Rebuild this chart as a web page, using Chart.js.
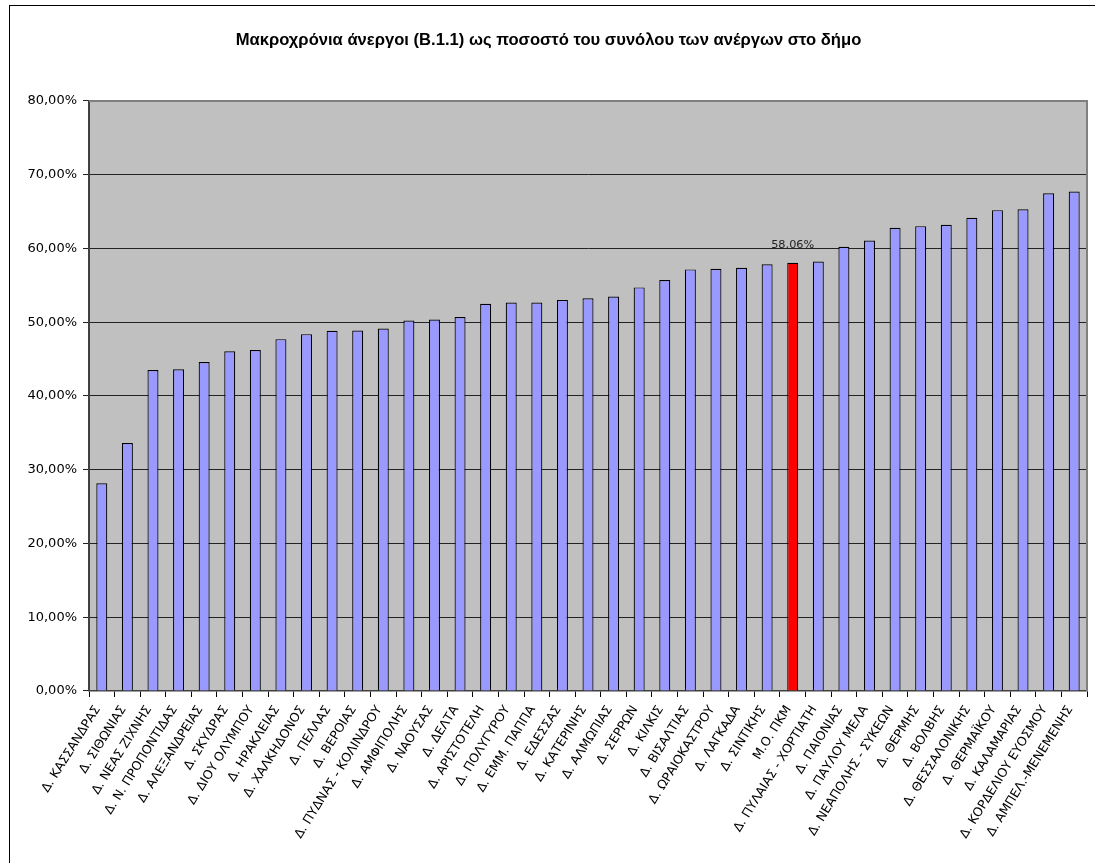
<!DOCTYPE html>
<html lang="el">
<head>
  <meta charset="UTF-8">
  <title>Μακροχρόνια άνεργοι</title>
  <style>
    html, body { margin: 0; padding: 0; background: #fff; }
    #wrap { width: 1095px; height: 863px; }
  </style>
  <script src="https://cdn.jsdelivr.net/npm/chart.js"></script>
</head>
<body>
  <div id="wrap"><canvas id="longTermChart" width="1095" height="863"></canvas></div>
  <script>
    // --- δεδομένα ---
    const dimoi = [
      'Δ. ΚΑΣΣΑΝΔΡΑΣ', 'Δ. ΣΙΘΩΝΙΑΣ', 'Δ. ΝΕΑΣ ΖΙΧΝΗΣ', 'Δ. Ν. ΠΡΟΠΟΝΤΙΔΑΣ', 'Δ. ΑΛΕΞΑΝΔΡΕΙΑΣ',
      'Δ. ΣΚΥΔΡΑΣ', 'Δ. ΔΙΟΥ ΟΛΥΜΠΟΥ', 'Δ. ΗΡΑΚΛΕΙΑΣ', 'Δ. ΧΑΛΚΗΔΟΝΟΣ', 'Δ. ΠΕΛΛΑΣ',
      'Δ. ΒΕΡΟΙΑΣ', 'Δ. ΠΥΔΝΑΣ - ΚΟΛΙΝΔΡΟΥ', 'Δ. ΑΜΦΙΠΟΛΗΣ', 'Δ. ΝΑΟΥΣΑΣ', 'Δ. ΔΕΛΤΑ',
      'Δ. ΑΡΙΣΤΟΤΕΛΗ', 'Δ. ΠΟΛΥΓΥΡΟΥ', 'Δ. ΕΜΜ. ΠΑΠΠΑ', 'Δ. ΕΔΕΣΣΑΣ', 'Δ. ΚΑΤΕΡΙΝΗΣ',
      'Δ. ΑΛΜΩΠΙΑΣ', 'Δ. ΣΕΡΡΩΝ', 'Δ. ΚΙΛΚΙΣ', 'Δ. ΒΙΣΑΛΤΙΑΣ', 'Δ. ΩΡΑΙΟΚΑΣΤΡΟΥ',
      'Δ. ΛΑΓΚΑΔΑ', 'Δ. ΣΙΝΤΙΚΗΣ', 'Μ.Ο. ΠΚΜ', 'Δ. ΠΥΛΑΙΑΣ - ΧΟΡΤΙΑΤΗ', 'Δ. ΠΑΙΟΝΙΑΣ',
      'Δ. ΠΑΥΛΟΥ ΜΕΛΑ', 'Δ. ΝΕΑΠΟΛΗΣ - ΣΥΚΕΩΝ', 'Δ. ΘΕΡΜΗΣ', 'Δ. ΒΟΛΒΗΣ', 'Δ. ΘΕΣΣΑΛΟΝΙΚΗΣ',
      'Δ. ΘΕΡΜΑΪΚΟΥ', 'Δ. ΚΑΛΑΜΑΡΙΑΣ', 'Δ. ΚΟΡΔΕΛΙΟΥ ΕΥΟΣΜΟΥ', 'Δ. ΑΜΠΕΛ.-ΜΕΝΕΜΕΝΗΣ'
    ];
    // ποσοστό μακροχρόνια ανέργων (%)
    const pososta = [
      28.16, 33.62, 43.52, 43.61, 44.60,
      46.06, 46.22, 47.70, 48.38, 48.85,
      48.87, 49.14, 50.22, 50.36, 50.71,
      52.50, 52.66, 52.68, 53.02, 53.24,
      53.48, 54.72, 55.71, 57.16, 57.25,
      57.37, 57.84, 58.06, 58.23, 60.23,
      61.06, 62.79, 63.02, 63.21, 64.16,
      65.19, 65.32, 67.48, 67.72
    ];
    const mesosOros = 'Μ.Ο. ΠΚΜ';
    const yTicks = [0, 10, 20, 30, 40, 50, 60, 70, 80];
    const titlos = 'Μακροχρόνια άνεργοι (Β.1.1) ως ποσοστό του συνόλου των ανέργων στο δήμο';

    function pct(v) {
      return v.toFixed(2).replace('.', ',') + '%';
    }

    const barColors = dimoi.map(d => d === mesosOros ? '#FF0000' : '#9999FF');

    // γκρι φόντο περιοχής, πλαίσια και ετικέτα του μέσου όρου
    const frame = {
      id: 'frame',
      beforeDraw(chart) {
        const { ctx, chartArea: a } = chart;
        ctx.save();
        ctx.fillStyle = '#C0C0C0';
        ctx.fillRect(a.left, a.top, a.right - a.left, a.bottom - a.top);
        ctx.strokeStyle = '#000';
        ctx.lineWidth = 1;
        ctx.strokeRect(9.5, 5.5, 2000, 2000);
        ctx.restore();
      },
      afterDatasetsDraw(chart) {
        const { ctx, chartArea: a } = chart;
        ctx.save();
        ctx.strokeStyle = '#808080';
        ctx.lineWidth = 2;
        ctx.beginPath();
        ctx.moveTo(a.left, a.top);
        ctx.lineTo(a.right, a.top);
        ctx.lineTo(a.right, a.bottom);
        ctx.stroke();
        // τιμή του Μ.Ο.
        const i = dimoi.indexOf(mesosOros);
        const bar = chart.getDatasetMeta(0).data[i];
        ctx.fillStyle = '#222';
        ctx.font = '11.3px "DejaVu Sans"';
        ctx.textAlign = 'center';
        ctx.textBaseline = 'bottom';
        ctx.fillText(pct(pososta[i]), bar.x, bar.y - 12);
        ctx.restore();
      }
    };

    new Chart(document.getElementById('longTermChart'), {
      type: 'bar',
      data: {
        labels: dimoi,
        datasets: [{
          data: pososta,
          backgroundColor: barColors,
          borderColor: '#000',
          borderWidth: 1.2,
          categoryPercentage: 1,
          barPercentage: 0.43
        }]
      },
      options: {
        responsive: false,
        animation: false,
        layout: { padding: { left: 10, right: 8, top: 0, bottom: 0 } },
        plugins: {
          legend: { display: false },
          tooltip: { enabled: false },
          title: {
            display: true,
            text: titlos,
            color: '#000',
            font: { family: '"Liberation Sans", Arial', size: 16.6, weight: 'bold' },
            padding: { top: 30, bottom: 51 }
          }
        },
        scales: {
          x: {
            afterFit(s) { s.height = 172; },
            grid: { offset: true, drawOnChartArea: false, color: '#000', tickLength: 6 },
            border: { color: '#404040', width: 1.5 },
            ticks: {
              autoSkip: false,
              minRotation: 58,
              maxRotation: 58,
              padding: 6,
              labelOffset: -4,
              color: '#000',
              font: { family: '"DejaVu Sans"', size: 12.5 }
            }
          },
          y: {
            min: 0,
            max: 80,
            afterFit(s) { s.width = 79; },
            afterBuildTicks(s) { s.ticks = yTicks.map(v => ({ value: v })); },
            grid: { color: '#222', lineWidth: 1, tickLength: 6 },
            border: { color: '#404040', width: 2 },
            ticks: {
              padding: 6,
              color: '#000',
              font: { family: '"DejaVu Sans"', size: 13 },
              callback: v => pct(v)
            }
          }
        }
      },
      plugins: [frame]
    });
  </script>
</body>
</html>
